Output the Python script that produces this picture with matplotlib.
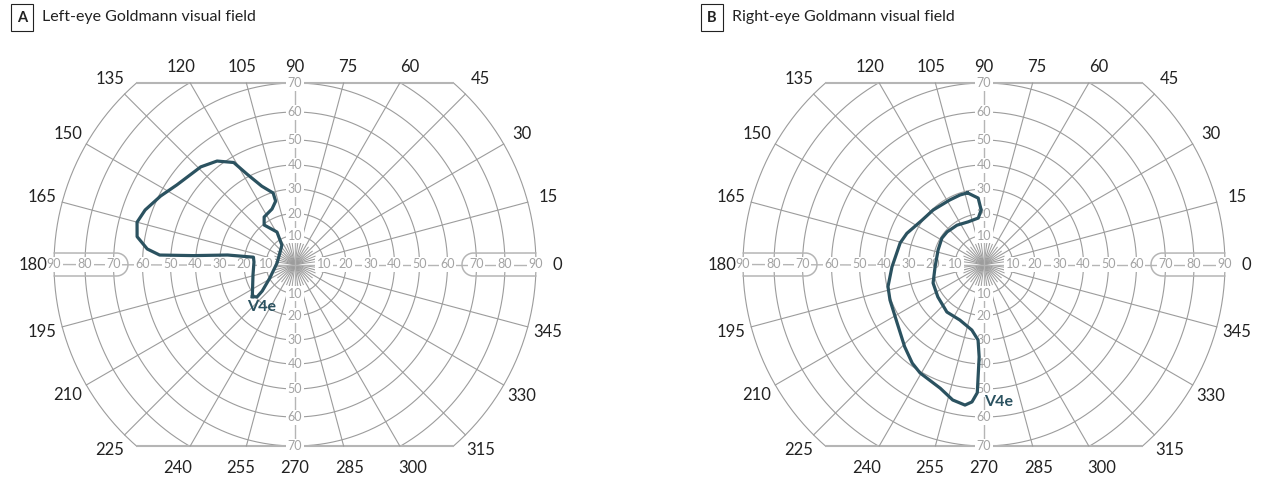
import numpy as np
import matplotlib.pyplot as plt

plt.rcParams['font.family'] = ['Lato', 'DejaVu Sans']

# Goldmann grid: eccentricity in degrees -> distance from fixation in px.
# The chart is stretched near the centre, so the rings are not evenly spaced.
ecc_steps = [0, 10, 20, 30, 40, 50, 60, 70, 80, 90, 100]
px_steps = [0, 29, 51, 75.5, 99.5, 124.5, 152.5, 181.5, 210, 241, 272]

ring_ecc = [10, 20, 30, 40, 50, 60, 70]
outer_ring_ecc = [80, 90]
meridians = list(range(0, 360, 15))
horiz_labels = [10, 20, 30, 40, 50, 60, 70, 80, 90]
vert_labels = [10, 20, 30, 40, 50, 60, 70]

# V4e isopters, (meridian deg, eccentricity deg)
left_angle = [217, 194, 176.5, 170, 172, 175, 176, 174, 170, 165, 160, 153,
              146, 134, 127, 121, 118, 113, 107, 107, 112.5, 123, 128, 119,
              124, 140, 175, 208, 219, 220.5]
left_ecc = [21, 16.5, 15.5, 16, 27, 41, 54, 58.6, 62.7, 63.8, 62.4, 59.4,
            56.4, 54, 51.8, 47.8, 41.2, 34, 29.7, 26.2, 23.7, 22.3, 19.6, 13.7,
            8.1, 6.7, 6.2, 9.8, 16, 19.5]

right_angle = [103, 95, 93, 97, 110.5, 124.5, 138.5, 148, 162.5, 183, 200, 215,
               232, 246.5, 259.5, 265.5, 267, 267, 267, 265, 262.3, 257, 250.5,
               239.5, 234, 226, 214, 200.7, 193, 181.5, 165.5, 158, 144.5, 133,
               118, 109]
right_ecc = [29.2, 26.4, 21.5, 18.1, 17.5, 18.5, 19.2, 19.4, 18.7, 19.1, 21.3,
             22.2, 23.8, 23.9, 26.4, 30.1, 37.1, 45.3, 51.4, 54.8, 56.2, 55.2,
             52.4, 50.5, 49, 45.9, 42.1, 40.4, 39.6, 36.9, 34.6, 33.2, 30.3,
             29.6, 29, 29.2]

W, H = 1261, 478
GRID = '#9c9c9c'
LIGHT = '#b5b5b5'
TICK = '#a3a3a3'
ISO = '#2b5260'


def fwd(r):
    return np.interp(r, ecc_steps, px_steps)


def inv(p):
    return np.interp(p, px_steps, ecc_steps)


fig = plt.figure(figsize=(W / 100, H / 100), dpi=100)

R_OUT = fwd(90)
Y_CAP = fwd(70)


def goldmann(cx, cy, angles, eccs, title, letter, title_x, label_pos):
    ax = fig.add_axes([(cx - R_OUT) / W, (H - cy - R_OUT) / H,
                       2 * R_OUT / W, 2 * R_OUT / H], projection='polar')
    ax.set_rscale('function', functions=(fwd, inv))
    ax.set_rlim(0, 90)
    ax.set_axis_off()

    full = np.linspace(0, 2 * np.pi, 721)
    for e in ring_ecc:
        ax.plot(full, np.full_like(full, e), color=GRID, lw=0.8, clip_on=False)

    # rings beyond 70 only exist where they fit between the flat top and bottom
    for e in outer_ring_ecc:
        lim = np.arcsin(Y_CAP / fwd(e))
        for c in (0, np.pi):
            th = np.linspace(c - lim, c + lim, 200)
            ax.plot(th, np.full_like(th, e), color=GRID, lw=0.8, clip_on=False)

    # flat cap at 70 deg above and below fixation
    cap = np.arcsin(Y_CAP / R_OUT)
    for sgn in (1, -1):
        th = np.linspace(cap, np.pi - cap, 300)
        ax.plot(sgn * th, inv(Y_CAP / np.sin(th)), color=LIGHT, lw=1.5,
                clip_on=False, solid_capstyle='butt')

    # meridians every 15 deg, ending on the outer boundary
    for a in meridians:
        if a % 90 == 0:
            continue
        t = np.deg2rad(a)
        s = abs(np.sin(t))
        end = 90 if s * R_OUT <= Y_CAP else inv(Y_CAP / s)
        ax.plot([t, t], [0, end], color=GRID, lw=0.8, clip_on=False)

    # short spokes between the meridians around fixation
    for a in np.arange(7.5, 360, 15):
        t = np.deg2rad(a)
        ax.plot([t, t], [0, 7.5], color=GRID, lw=0.7, clip_on=False)

    # horizontal and vertical scales
    ax.plot([0, 0], [0, 90], color=LIGHT, lw=1.0, clip_on=False)
    ax.plot([np.pi, np.pi], [0, 90], color=LIGHT, lw=1.0, clip_on=False)
    ax.plot([np.pi / 2] * 2, [0, 70], color=LIGHT, lw=1.0, clip_on=False)
    ax.plot([-np.pi / 2] * 2, [0, 70], color=LIGHT, lw=1.0, clip_on=False)

    # rounded boxes around the 70-90 part of the horizontal scale
    hh = 11.5
    x_in = fwd(70) - 3
    x_out = np.sqrt(R_OUT ** 2 - hh ** 2)
    arc = np.linspace(np.pi / 2, 3 * np.pi / 2, 60)
    bx = np.concatenate([np.linspace(x_out, x_in, 40),
                         x_in + hh * np.cos(arc),
                         np.linspace(x_in, x_out, 40)])
    by = np.concatenate([np.full(40, hh), hh * np.sin(arc), np.full(40, -hh)])
    for sgn in (1, -1):
        px, py = sgn * bx, by
        ax.plot(np.arctan2(py, px), inv(np.hypot(px, py)), color=LIGHT,
                lw=1.1, clip_on=False)

    box = dict(boxstyle='square,pad=0.12', fc='white', ec='none')
    for e in horiz_labels:
        for t in (0, np.pi):
            ax.text(t, e, str(e), ha='center', va='center', fontsize=9,
                    color=TICK, bbox=box)
    for e in vert_labels:
        for t in (np.pi / 2, -np.pi / 2):
            ax.text(t, e, str(e), ha='center', va='center', fontsize=9,
                    color=TICK, bbox=box)

    # meridian labels
    for a in meridians:
        t = np.deg2rad(a)
        s = np.sin(t)
        if abs(s) * R_OUT <= Y_CAP:
            r = inv(262)
        else:
            r = inv((198 if s > 0 else 203.5) / abs(s))
        ax.text(t, r, str(a), ha='center', va='center', fontsize=12,
                color='#222222')

    th = np.deg2rad(angles + angles[:1])
    ax.plot(th, eccs + eccs[:1], color=ISO, lw=2.3, solid_joinstyle='round',
            clip_on=False, zorder=6)
    ax.text(np.deg2rad(label_pos[0]), label_pos[1], 'V4e', ha='center',
            va='center', fontsize=11.5, fontweight='bold', color=ISO, zorder=7)

    fig.text((title_x - 20) / W, 1 - 17.5 / H, letter, ha='center',
             va='center', fontsize=10.5, fontweight='bold', color='#222222',
             bbox=dict(boxstyle='square,pad=0.42', fc='white', ec='#222222',
                       lw=0.8))
    fig.text(title_x / W, 1 - 17.5 / H, title, ha='left', va='center',
             fontsize=11.5, color='#222222')
    return ax


goldmann(295, 264.5, left_angle, left_ecc, 'Left-eye Goldmann visual field',
         'A', 42, (232, 21))
goldmann(984, 264.5, right_angle, right_ecc, 'Right-eye Goldmann visual field',
         'B', 732, (276, 55))

fig.savefig('out.png', dpi=100)
